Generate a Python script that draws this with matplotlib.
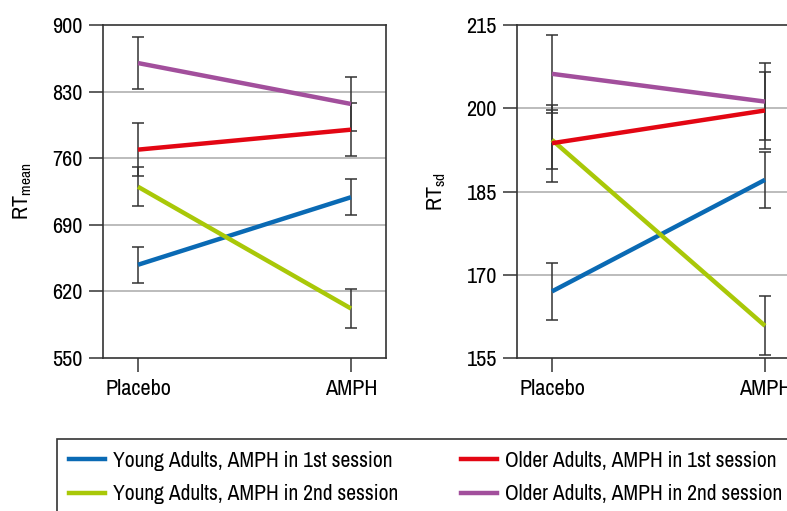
import matplotlib
matplotlib.use("Agg")
import matplotlib.pyplot as plt
from matplotlib import font_manager
from matplotlib.patches import Rectangle

# look for a narrow sans (the original uses a condensed grotesque)
fam, stretch = "Liberation Sans", "normal"
for f in font_manager.fontManager.ttflist:
    if "Narrow" in f.name or "Condensed" in f.name:
        fam, stretch = f.name, "normal"
        break
else:
    for f in font_manager.fontManager.ttflist:
        if str(f.stretch) in ("condensed", "semi-condensed") and f.name.startswith("DejaVu Sans"):
            fam, stretch = f.name, "condensed"
            break
plt.rcParams['font.family'] = [fam, 'DejaVu Sans']
plt.rcParams['font.stretch'] = stretch
plt.rcParams['mathtext.fontset'] = 'custom'
plt.rcParams['mathtext.rm'] = fam

conditions = ["Placebo", "AMPH"]
groups = ["Young Adults, AMPH in 1st session", "Young Adults, AMPH in 2nd session",
          "Older Adults, AMPH in 1st session", "Older Adults, AMPH in 2nd session"]
colors = ["#0a6ab4", "#a9c808", "#e30613", "#a24f9c"]

# RT mean (ms) and error
rt_mean = [[648, 719], [730, 602], [769, 790], [860, 817]]
rt_mean_err = [[19, 19], [20.5, 20.5], [27.5, 27.5], [27, 28]]

# RT sd (ms) and error
rt_sd = [[167, 187.1], [194.3, 160.8], [193.7, 199.6], [206.2, 201.2]]
rt_sd_err = [[5.1, 5.0], [5.3, 5.3], [6.9, 6.9], [7.0, 7.0]]

fig = plt.figure(figsize=(7.87, 5.11), dpi=100)
W, H = 787, 511

def make_ax(left_px):
    return fig.add_axes([left_px / W, 1 - 358 / H, 283 / W, 333 / H])

ax1 = make_ax(103)
ax2 = make_ax(517)

def draw(ax, vals, errs, ylim, yticks, ylabel):
    x = [0, 1]
    for v, e, c in zip(vals, errs, colors):
        ax.errorbar(x, v, yerr=e, fmt='none', ecolor='#333333', elinewidth=1.1,
                    capsize=4.5, capthick=1.1, zorder=3)
        ax.plot(x, v, color=c, lw=3.2, solid_capstyle='butt', zorder=4)
    ax.set_xlim(-35 / 213, 1 + 35 / 213)
    ax.set_ylim(*ylim)
    ax.set_yticks(yticks)
    ax.set_xticks(x)
    ax.set_xticklabels(conditions)
    for t in yticks[1:-1]:
        ax.axhline(t, color='#aaaaaa', lw=1.1, zorder=1)
    for s in ax.spines.values():
        s.set_color('#333333')
        s.set_linewidth(1.2)
    ax.tick_params(axis='y', length=10, width=1.1, color='#333333', labelsize=16, pad=4.5)
    ax.tick_params(axis='x', length=10, width=1.1, color='#333333', labelsize=16, pad=5)
    ax.set_ylabel(ylabel, fontsize=16, labelpad=13)

draw(ax1, rt_mean, rt_mean_err, (550, 900), [550, 620, 690, 760, 830, 900],
     r'RT$_{\mathregular{mean}}$')
draw(ax2, rt_sd, rt_sd_err, (155, 215), [155, 170, 185, 200, 215],
     r'RT$_{\mathregular{sd}}$')

# legend box runs off the right and bottom edge like in the original
fig.patches.append(Rectangle((57 / W, -0.2), 1.0, 1 - 439 / H + 0.2, transform=fig.transFigure,
                             facecolor='none', edgecolor='#333333', lw=1.2))
handles = [plt.Line2D([], [], color=c, lw=3.2) for c in colors]
leg = fig.legend(handles, groups, loc='upper left', bbox_to_anchor=(69 / W, 1 - 451 / H),
                 ncol=2, fontsize=15.5, frameon=False, handlelength=1.67,
                 handletextpad=0.37, columnspacing=2.93, labelspacing=0.62, borderpad=0,
                 borderaxespad=0)

fig.savefig("out.png", dpi=100)
